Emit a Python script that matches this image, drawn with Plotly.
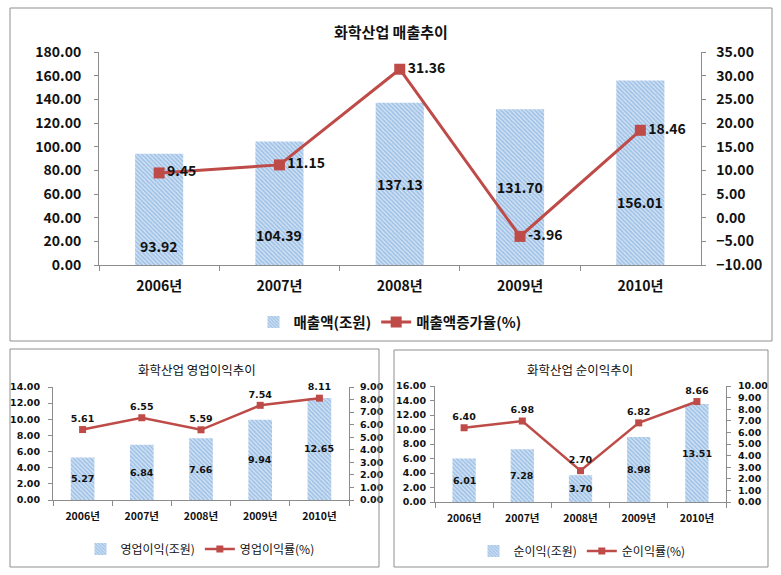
import plotly.graph_objects as go

# ---------------- data ----------------
years = ["2006년", "2007년", "2008년", "2009년", "2010년"]
sales = [93.92, 104.39, 137.13, 131.70, 156.01]          # 매출액(조원)
sales_growth = [9.45, 11.15, 31.36, -3.96, 18.46]        # 매출액증가율(%)
op_profit = [5.27, 6.84, 7.66, 9.94, 12.65]              # 영업이익(조원)
op_margin = [5.61, 6.55, 5.59, 7.54, 8.11]               # 영업이익률(%)
net_profit = [6.01, 7.28, 3.70, 8.98, 13.51]             # 순이익(조원)
net_margin = [6.40, 6.98, 2.70, 6.82, 8.66]              # 순이익률(%)

# vertical placement of the top chart's bar value labels (left-axis units)
sales_label_y = [16, 25, 68.6, 65.9, 53]

# ---------------- style ----------------
W, H = 781, 575
FONT = "Noto Sans CJK KR, DejaVu Sans, sans-serif"
NUMFONT = "DejaVu Sans, Noto Sans CJK KR, sans-serif"
RED = "#BE4B48"
AX = "#8C8C8C"
BAR_MARKER = dict(
    color="#D2E3F4",
    line=dict(width=0),
    pattern=dict(shape="\\", fgcolor="#6C9FD8", bgcolor="#D2E3F4", size=3, solidity=0.55),
)


def px(x):
    return x / W


def py(y):
    return 1 - y / H


fig = go.Figure()

# ---------- top chart ----------
fig.add_trace(go.Bar(x=years, y=sales, xaxis="x", yaxis="y", width=0.4, marker=BAR_MARKER,
                     name="매출액(조원)", legend="legend", hoverinfo="skip"))
fig.add_trace(go.Scatter(x=years, y=sales_growth, xaxis="x", yaxis="y2", mode="lines+markers+text",
                         line=dict(color=RED, width=3), marker=dict(symbol="square", size=11, color=RED),
                         text=[f"{v:.2f}" for v in sales_growth], textposition="middle right",
                         textfont=dict(family=FONT, size=14, color="#111", weight="bold"),
                         cliponaxis=False, name="매출액증가율(%)", legend="legend"))

# ---------- bottom-left chart ----------
fig.add_trace(go.Bar(x=years, y=op_profit, xaxis="x2", yaxis="y3", width=0.4, marker=BAR_MARKER,
                     name="영업이익(조원)", legend="legend2"))
fig.add_trace(go.Scatter(x=years, y=op_margin, xaxis="x2", yaxis="y4", mode="lines+markers+text",
                         line=dict(color=RED, width=2.5), marker=dict(symbol="square", size=7, color=RED),
                         text=[f"{v:.2f}" for v in op_margin], textposition="top center",
                         textfont=dict(family=NUMFONT, size=9.5, color="#111", weight="bold"),
                         cliponaxis=False, name="영업이익률(%)", legend="legend2"))

# ---------- bottom-right chart ----------
fig.add_trace(go.Bar(x=years, y=net_profit, xaxis="x3", yaxis="y5", width=0.4, marker=BAR_MARKER,
                     name="순이익(조원)", legend="legend3"))
fig.add_trace(go.Scatter(x=years, y=net_margin, xaxis="x3", yaxis="y6", mode="lines+markers+text",
                         line=dict(color=RED, width=2.5), marker=dict(symbol="square", size=7, color=RED),
                         text=[f"{v:.2f}" for v in net_margin], textposition="top center",
                         textfont=dict(family=NUMFONT, size=9.5, color="#111", weight="bold"),
                         cliponaxis=False, name="순이익률(%)", legend="legend3"))

# ---------- bar value labels ----------
ann = []
for yr, v, ly in zip(years, sales, sales_label_y):
    ann.append(dict(x=yr, y=ly, xref="x", yref="y", text=f"{v:.2f}", showarrow=False,
                    xanchor="center", yanchor="middle",
                    font=dict(family=FONT, size=14, color="#111", weight="bold")))
for yr, v in zip(years, op_profit):
    ann.append(dict(x=yr, y=v / 2, xref="x2", yref="y3", text=f"{v:.2f}", showarrow=False,
                    xanchor="center", yanchor="middle",
                    font=dict(family=NUMFONT, size=9.5, color="#111", weight="bold")))
for yr, v in zip(years, net_profit):
    ann.append(dict(x=yr, y=v / 2, xref="x3", yref="y5", text=f"{v:.2f}", showarrow=False,
                    xanchor="center", yanchor="middle",
                    font=dict(family=NUMFONT, size=9.5, color="#111", weight="bold")))

# ---------- titles ----------
ann.append(dict(x=px(391), y=py(31), xref="paper", yref="paper", text="화학산업 매출추이",
                xanchor="center", yanchor="middle", showarrow=False,
                font=dict(family=FONT, size=15, color="#111", weight="bold")))
ann.append(dict(x=px(197), y=py(370), xref="paper", yref="paper", text="화학산업 영업이익추이",
                xanchor="center", yanchor="middle", showarrow=False,
                font=dict(family=FONT, size=12.5, color="#111")))
ann.append(dict(x=px(580), y=py(370), xref="paper", yref="paper", text="화학산업 순이익추이",
                xanchor="center", yanchor="middle", showarrow=False,
                font=dict(family=FONT, size=12.5, color="#111")))

# ---------- borders ----------
shapes = [
    dict(type="rect", xref="paper", yref="paper", x0=px(10), x1=px(772), y0=py(341), y1=py(8),
         line=dict(color="#8F8F8F", width=1)),
    dict(type="rect", xref="paper", yref="paper", x0=px(10), x1=px(379), y0=py(567), y1=py(349),
         line=dict(color="#8F8F8F", width=1)),
    dict(type="rect", xref="paper", yref="paper", x0=px(394), x1=px(768), y0=py(567), y1=py(350),
         line=dict(color="#8F8F8F", width=1)),
]


def xax(domain, anchor, font, size, standoff):
    return dict(domain=domain, anchor=anchor, showline=True, linecolor=AX, linewidth=1,
                ticks="outside", tickson="boundaries", ticklen=5, tickcolor=AX,
                showgrid=False, zeroline=False, ticklabelstandoff=standoff, automargin=False,
                tickfont=dict(family=font, size=size, color="#111", weight="bold"))


def yax(domain, anchor, rng, dtick, font, size, standoff, side="left", overlaying=None):
    d = dict(anchor=anchor, range=rng, dtick=dtick, tickformat=".2f", side=side,
             showline=True, linecolor=AX, linewidth=1, ticks="outside", ticklen=4, tickcolor=AX,
             showgrid=False, zeroline=False, ticklabelstandoff=standoff, automargin=False,
             tickfont=dict(family=font, size=size, color="#111", weight="bold"))
    if overlaying:
        d["overlaying"] = overlaying
    else:
        d["domain"] = domain
    return d


legend_font_top = dict(family=FONT, size=14.5, color="#111", weight="bold")
legend_font_bot = dict(family=FONT, size=12, color="#111")

fig.update_layout(
    width=W, height=H, margin=dict(l=0, r=0, t=0, b=0, autoexpand=False),
    paper_bgcolor="white", plot_bgcolor="white",
    showlegend=True, barmode="group",
    xaxis=xax([px(99), px(700.5)], "y", FONT, 14, 8),
    yaxis=yax([py(265), py(52)], "x", [0, 180], 20, FONT, 14, 10),
    yaxis2=yax(None, "x", [-10, 35], 5, FONT, 14, 8, side="right", overlaying="y"),
    xaxis2=xax([px(53), px(349)], "y3", FONT, 10.5, 6),
    yaxis3=yax([py(500), py(387)], "x2", [0, 14], 2, NUMFONT, 9.5, 6),
    yaxis4=yax(None, "x2", [0, 9], 1, NUMFONT, 9.5, 4, side="right", overlaying="y3"),
    xaxis3=xax([px(435), px(726)], "y5", FONT, 10.5, 6),
    yaxis5=yax([py(502), py(386)], "x3", [0, 16], 2, NUMFONT, 9.5, 2, side="left"),
    yaxis6=yax(None, "x3", [0, 10], 1, NUMFONT, 9.5, 5, side="right", overlaying="y5"),
    legend=dict(orientation="h", x=px(390), y=py(322), xanchor="center", yanchor="middle",
                font=legend_font_top, bgcolor="rgba(0,0,0,0)"),
    legend2=dict(orientation="h", x=px(200), y=py(549), xanchor="center", yanchor="middle",
                 font=legend_font_bot, bgcolor="rgba(0,0,0,0)"),
    legend3=dict(orientation="h", x=px(582), y=py(551), xanchor="center", yanchor="middle",
                 font=legend_font_bot, bgcolor="rgba(0,0,0,0)"),
    annotations=ann, shapes=shapes,
)

fig.write_html("out.html", config={"displayModeBar": False},
               post_script="document.body.style.margin='0';document.body.style.overflow='hidden';")
